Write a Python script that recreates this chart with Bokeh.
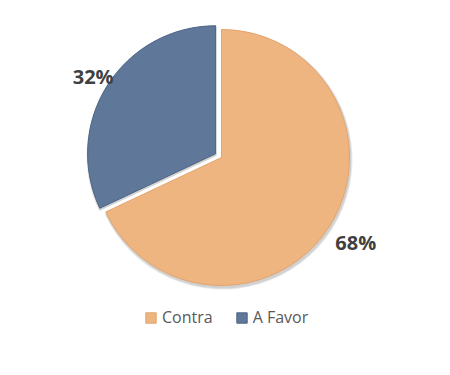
import math
from bokeh.plotting import figure
from bokeh.models import ColumnDataSource, Range1d, Legend, LegendItem
from bokeh.core.properties import value
from bokeh.embed import file_html
from bokeh.resources import INLINE

categories = ["Contra", "A Favor"]
values = [68, 32]
labels = ["68%", "32%"]
colors = ["#EEB581", "#5F7799"]
edge_colors = ["#E3A46C", "#4D6485"]
explode = [0, 7]

W, H = 450, 375
cx, cy, R = 221, H - 157, 128
label_r = [159, 152]

total = sum(values)
starts, ends, xs, ys, lx, ly = [], [], [], [], [], []
cum = 0.0
for v, e, lr in zip(values, explode, label_r):
    a0 = math.pi / 2 - 2 * math.pi * cum / total
    cum += v
    a1 = math.pi / 2 - 2 * math.pi * cum / total
    mid = (a0 + a1) / 2
    starts.append(a1)
    ends.append(a0)
    xs.append(cx + e * math.cos(mid))
    ys.append(cy + e * math.sin(mid))
    lx.append(cx + lr * math.cos(mid))
    ly.append(cy + lr * math.sin(mid))

src = ColumnDataSource(dict(x=xs, y=ys, start=starts, end=ends, color=colors,
                            edge=edge_colors, cat=categories, label=labels,
                            lx=lx, ly=ly,
                            sx=[x + 1 for x in xs], sy=[y - 2 for y in ys]))

p = figure(width=W, height=H, output_backend="svg", toolbar_location=None,
           x_range=Range1d(0, W), y_range=Range1d(0, H), min_border=0)
p.axis.visible = False
p.grid.visible = False
p.outline_line_color = None
p.background_fill_color = "white"

# soft shadow
p.wedge(x="sx", y="sy", radius=R + 2, start_angle="start", end_angle="end",
        fill_color="#BFBFBF", fill_alpha=0.35, line_color=None, source=src)
p.wedge(x="sx", y="sy", radius=R + 1, start_angle="start", end_angle="end",
        fill_color="#A6A6A6", fill_alpha=0.35, line_color=None, source=src)

r = p.wedge(x="x", y="y", radius=R, start_angle="start", end_angle="end",
            fill_color="color", line_color="edge", line_width=1, source=src)

p.text(x="lx", y="ly", text="label", source=src, text_align="center",
       text_baseline="middle", text_font=value("Open Sans"),
       text_font_style="bold", text_font_size="20px", text_color="#404040")

legend = Legend(items=[LegendItem(label=c, renderers=[r], index=i)
                       for i, c in enumerate(categories)],
                orientation="horizontal", location=(144, 47),
                glyph_width=13, glyph_height=13, label_standoff=5, spacing=22,
                padding=0, margin=0, border_line_alpha=0, background_fill_alpha=0,
                label_text_font="Open Sans", label_text_font_size="16px",
                label_text_color="#595959")
p.add_layout(legend, "center")

open("out.html", "w").write(file_html(p, INLINE))
